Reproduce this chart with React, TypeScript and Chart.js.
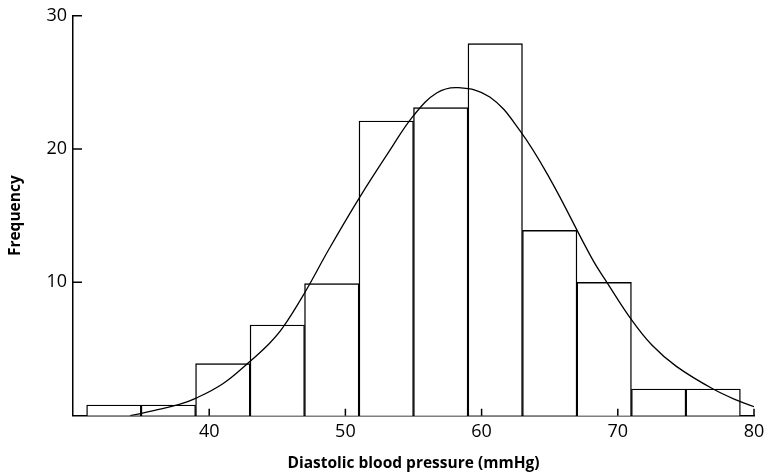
import React, { useEffect, useRef } from "react";
import { Chart, registerables } from "chart.js";

Chart.register(...registerables);

// Histogram bins (centres of 4 mmHg wide classes, 31–79)
const binCenters = [33, 37, 41, 45, 49, 53, 57, 61, 65, 69, 73, 77];
const frequencies = [0.8, 0.8, 3.9, 6.8, 9.9, 22.1, 23.1, 27.9, 13.9, 10, 2, 2];

// Fitted normal curve
const curveX = [34.2, 36, 37.8, 39, 41, 42.8, 44.4, 45.4, 47, 48.8, 51, 53.2, 55, 56.7, 58.3, 60.6, 62.8, 65, 68.1, 69.2, 71, 72.5, 74.3, 77, 79, 80];
const curveY = [0, 0.4, 0.85, 1.3, 2.4, 3.9, 5.4, 6.6, 9.2, 12.5, 16.3, 19.8, 22.5, 24.2, 24.6, 23.9, 21.4, 17.8, 11.8, 10.0, 7.2, 5.3, 3.7, 2.0, 1.05, 0.68];

const xTickValues = [40, 50, 60, 70, 80];
const yTickValues = [10, 20, 30];

const xTitle = "Diastolic blood pressure (mmHg)";
const yTitle = "Frequency";

const inwardTicks = {
  id: "inwardTicks",
  afterDraw(chart: any) {
    const { ctx, chartArea, scales } = chart;
    ctx.save();
    ctx.strokeStyle = "#000";
    ctx.lineWidth = 1.5;
    ctx.beginPath();
    xTickValues.forEach((v) => {
      const px = scales.x.getPixelForValue(v);
      ctx.moveTo(px, chartArea.bottom);
      ctx.lineTo(px, chartArea.bottom - 7);
    });
    yTickValues.forEach((v) => {
      const py = scales.y.getPixelForValue(v);
      ctx.moveTo(chartArea.left, py);
      ctx.lineTo(chartArea.left + 9, py);
    });
    ctx.stroke();
    ctx.restore();
  },
};

export default function App() {
  const ref = useRef<HTMLCanvasElement>(null);
  useEffect(() => {
    if (!ref.current) return;
    const chart = new Chart(ref.current, {
      type: "bar",
      data: {
        datasets: [
          {
            type: "line",
            data: curveX.map((x, i) => ({ x, y: curveY[i] })),
            borderColor: "#000",
            borderWidth: 1.3,
            pointRadius: 0,
            tension: 0.4,
            fill: false,
            order: 0,
          } as any,
          {
            type: "bar",
            data: binCenters.map((x, i) => ({ x, y: frequencies[i] })),
            backgroundColor: "#fff",
            borderColor: "#000",
            borderWidth: 1.4,
            categoryPercentage: 1,
            barPercentage: 1,
            order: 1,
          } as any,
        ],
      },
      options: {
        responsive: false,
        animation: false,
        events: [],
        layout: { padding: { top: 15.7, right: 12, left: 0, bottom: 0 } },
        plugins: { legend: { display: false }, tooltip: { enabled: false } },
        scales: {
          x: {
            type: "linear",
            min: 30,
            max: 80,
            offset: false,
            grid: { display: false, drawTicks: false },
            border: { display: true, color: "#000", width: 1.5 },
            ticks: {
              stepSize: 10,
              padding: 5,
              color: "#000",
              font: { family: "'Open Sans'", size: 18 },
              callback: (v: any) => (v === 30 ? "" : String(v)),
            },
            title: {
              display: true,
              text: xTitle,
              color: "#000",
              font: { family: "'Open Sans'", size: 15.5, weight: "bold" },
              padding: { top: 0, bottom: 1.6 },
            },
            afterFit: (s: any) => {
              s.height = 474 - 415.7;
              s.paddingLeft = 0;
              s.paddingRight = 0;
            },
          },
          y: {
            min: 0,
            max: 30,
            grid: { display: false, drawTicks: false },
            border: { display: true, color: "#000", width: 1.5 },
            ticks: {
              stepSize: 10,
              padding: 6,
              color: "#000",
              font: { family: "'Open Sans'", size: 18 },
              callback: (v: any) => (v === 0 ? "" : String(v)),
            },
            title: {
              display: true,
              text: yTitle,
              color: "#000",
              font: { family: "'Open Sans'", size: 15.5, weight: "bold" },
              padding: { top: 6.6, bottom: 0 },
            },
            afterFit: (s: any) => {
              s.width = 73;
              s.paddingTop = 0;
              s.paddingBottom = 0;
            },
          },
        },
      } as any,
      plugins: [inwardTicks],
    });
    return () => chart.destroy();
  }, []);
  return (
    <div style={{ position: "fixed", left: 0, top: 0, width: 766, height: 474, background: "#fff" }}>
      <canvas ref={ref} width={766} height={474} style={{ display: "block" }} />
    </div>
  );
}
